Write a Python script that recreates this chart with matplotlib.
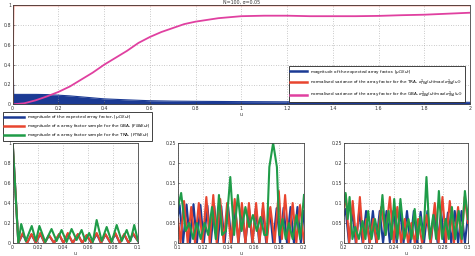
import numpy as np
import matplotlib
matplotlib.use("Agg")
import matplotlib.pyplot as plt

# ---------------- data ----------------
# top panel
top_env_u = [0, 0.004, 0.05, 0.1, 0.15, 0.2, 0.25, 0.3, 0.35, 0.4, 0.5, 0.6, 0.7, 0.8, 1.0, 1.2, 1.4, 1.6, 1.8, 2.0]
top_env_v = [1.0, 0.10, 0.10, 0.10, 0.098, 0.092, 0.085, 0.075, 0.065, 0.055, 0.045, 0.036, 0.032, 0.030, 0.027, 0.025, 0.024, 0.022, 0.021, 0.020]
tra_var_u = [0, 0.003, 2.0]
tra_var_v = [0, 1.0, 1.0]
gba_var_u = [0, 0.05, 0.1, 0.15, 0.2, 0.25, 0.3, 0.35, 0.4, 0.45, 0.5, 0.55, 0.6, 0.65, 0.7, 0.75, 0.8, 0.9,
             1.0, 1.1, 1.2, 1.3, 1.4, 1.5, 1.6, 1.7, 1.8, 1.9, 2.0]
gba_var_v = [0, 0.01, 0.04, 0.08, 0.125, 0.18, 0.25, 0.32, 0.40, 0.47, 0.54, 0.62, 0.68, 0.73, 0.77, 0.81, 0.835, 0.87,
             0.89, 0.895, 0.895, 0.89, 0.89, 0.89, 0.893, 0.90, 0.905, 0.915, 0.925]

# bottom-left panel (0 - 0.1)
bl_blue_u = [0.0, 0.0045, 0.0080, 0.0115, 0.0150, 0.0185, 0.0220, 0.0255, 0.0290, 0.0330, 0.0370, 0.0405, 0.0440, 0.0480,
             0.0520, 0.0555, 0.0590, 0.0630, 0.0670, 0.0705, 0.0740, 0.0780, 0.0820, 0.0855, 0.0890, 0.0925, 0.0960, 0.1000]
bl_blue_v = [1.0, 0.0, 0.09, 0.0, 0.085, 0.0, 0.09, 0.0, 0.075, 0.0, 0.085, 0.0, 0.09, 0.0,
             0.085, 0.0, 0.075, 0.0, 0.09, 0.0, 0.085, 0.0, 0.09, 0.0, 0.085, 0.0, 0.09, 0.02]
bl_red_u = [0.0, 0.0045, 0.0080, 0.0115, 0.0150, 0.0185, 0.0220, 0.0255, 0.0290, 0.0330, 0.0370, 0.0405, 0.0440, 0.0480,
            0.0520, 0.0555, 0.0590, 0.0630, 0.0670, 0.0705, 0.0740, 0.0780, 0.0820, 0.0855, 0.0890, 0.0925, 0.0960, 0.1000]
bl_red_v = [1.0, 0.0, 0.10, 0.0, 0.09, 0.0, 0.10, 0.0, 0.08, 0.0, 0.09, 0.0, 0.10, 0.0,
            0.09, 0.0, 0.08, 0.0, 0.10, 0.0, 0.09, 0.0, 0.10, 0.0, 0.09, 0.0, 0.10, 0.02]
bl_green_u = [0, 0.0045, 0.0068, 0.0105, 0.0152, 0.0185, 0.0213, 0.026, 0.031, 0.035, 0.039, 0.043, 0.047, 0.051,
              0.055, 0.058, 0.061, 0.064, 0.067, 0.071, 0.075, 0.079, 0.083, 0.087, 0.091, 0.094, 0.097, 0.100]
bl_green_v = [1.0, 0.0, 0.19, 0.02, 0.17, 0.02, 0.17, 0.01, 0.14, 0.02, 0.13, 0.01, 0.14, 0.03,
              0.13, 0.02, 0.10, 0.01, 0.23, 0.02, 0.16, 0.01, 0.18, 0.02, 0.13, 0.02, 0.18, 0.02]

# bottom-middle panel (0.1 - 0.2)
bm_blue_u = [0.1000, 0.1013, 0.1040, 0.1068, 0.1095, 0.1123, 0.1150, 0.1178, 0.1205, 0.1233, 0.1260, 0.1288, 0.1315,
             0.1343, 0.1370, 0.1398, 0.1425, 0.1453, 0.1480, 0.1508, 0.1535, 0.1563, 0.1590, 0.1618, 0.1645, 0.1673,
             0.1700, 0.1728, 0.1755, 0.1783, 0.1810, 0.1838, 0.1865, 0.1893, 0.1920, 0.1948, 0.1975, 0.2000]
bm_blue_v = [0.07, 0.095, 0.0, 0.096, 0.0, 0.097, 0.0, 0.095, 0.0, 0.094, 0.0, 0.093, 0.0,
             0.092, 0.0, 0.091, 0.0, 0.090, 0.0, 0.089, 0.0, 0.088, 0.0, 0.087, 0.0, 0.086,
             0.0, 0.086, 0.0, 0.087, 0.0, 0.088, 0.0, 0.090, 0.0, 0.090, 0.0, 0.08]
bm_red_u = [0.1000, 0.1020, 0.1048, 0.1077, 0.1105, 0.1135, 0.1165, 0.1195, 0.1225, 0.1252, 0.1280, 0.1307, 0.1335,
            0.1362, 0.1390, 0.1420, 0.1450, 0.1478, 0.1507, 0.1535, 0.1563, 0.1592, 0.1620, 0.1647, 0.1675, 0.1704,
            0.1733, 0.1767, 0.1800, 0.1825, 0.1850, 0.1880, 0.1910, 0.1939, 0.1968, 0.2000]
bm_red_v = [0.06, 0.0, 0.105, 0.0, 0.09, 0.0, 0.10, 0.0, 0.115, 0.0, 0.12, 0.0, 0.11,
            0.0, 0.10, 0.0, 0.11, 0.0, 0.10, 0.0, 0.10, 0.0, 0.10, 0.0, 0.10, 0.0,
            0.09, 0.0, 0.13, 0.01, 0.12, 0.0, 0.10, 0.0, 0.095, 0.0]
bm_green_u = [0.100, 0.1025, 0.1060, 0.1090, 0.1120, 0.1150, 0.1180, 0.1210, 0.1240, 0.1270, 0.1300, 0.1325, 0.1350,
              0.1380, 0.1415, 0.1445, 0.1475, 0.1505, 0.1535, 0.1565, 0.1595, 0.1625, 0.1655, 0.1685, 0.1705,
              0.1725, 0.1755, 0.1785, 0.1805, 0.1830, 0.1855, 0.1880, 0.1910, 0.1940, 0.1970, 0.2000]
bm_green_v = [0.09, 0.125, 0.03, 0.05, 0.01, 0.05, 0.01, 0.05, 0.02, 0.09, 0.01, 0.12, 0.02,
              0.03, 0.165, 0.02, 0.12, 0.03, 0.09, 0.04, 0.07, 0.03, 0.065, 0.02, 0.02,
              0.19, 0.25, 0.19, 0.02, 0.06, 0.01, 0.05, 0.01, 0.07, 0.01, 0.12]

# bottom-right panel (0.2 - 0.3)
br_blue_u = [0.2000, 0.2013, 0.2040, 0.2068, 0.2095, 0.2123, 0.2150, 0.2178, 0.2205, 0.2233, 0.2260, 0.2288, 0.2315,
             0.2343, 0.2370, 0.2398, 0.2425, 0.2453, 0.2480, 0.2508, 0.2535, 0.2563, 0.2590, 0.2618, 0.2645, 0.2673,
             0.2700, 0.2728, 0.2755, 0.2783, 0.2810, 0.2838, 0.2865, 0.2893, 0.2920, 0.2948, 0.2975, 0.3000]
br_blue_v = [0.07, 0.085, 0.0, 0.082, 0.0, 0.080, 0.0, 0.080, 0.0, 0.080, 0.0, 0.080, 0.0,
             0.080, 0.0, 0.080, 0.0, 0.080, 0.0, 0.080, 0.0, 0.080, 0.0, 0.078, 0.0, 0.080,
             0.0, 0.080, 0.0, 0.078, 0.0, 0.076, 0.0, 0.080, 0.0, 0.080, 0.0, 0.07]
br_red_u = [0.2000, 0.2015, 0.2042, 0.2070, 0.2100, 0.2128, 0.2155, 0.2180, 0.2208, 0.2236, 0.2265, 0.2300, 0.2335,
            0.2370, 0.2400, 0.2430, 0.2460, 0.2490, 0.2517, 0.2544, 0.2571, 0.2598, 0.2630, 0.2665, 0.2698,
            0.2732, 0.2763, 0.2794, 0.2823, 0.2853, 0.2887, 0.2920, 0.2947, 0.2973, 0.3000]
br_red_v = [0.09, 0.12, 0.0, 0.105, 0.0, 0.115, 0.0, 0.06, 0.0, 0.06, 0.0, 0.09, 0.02,
            0.115, 0.0, 0.09, 0.0, 0.06, 0.0, 0.05, 0.0, 0.06, 0.0, 0.07, 0.0,
            0.10, 0.0, 0.115, 0.0, 0.105, 0.0, 0.09, 0.0, 0.115, 0.05]
br_green_u = [0.2000, 0.2013, 0.2030, 0.2045, 0.2068, 0.2090, 0.2120, 0.2150, 0.2173, 0.2195, 0.2222, 0.2250, 0.2280,
              0.2310, 0.2335, 0.2360, 0.2383, 0.2405, 0.2430, 0.2455, 0.2487, 0.2520, 0.2545, 0.2570, 0.2593,
              0.2615, 0.2640, 0.2665, 0.2692, 0.2720, 0.2743, 0.2765, 0.2792, 0.2820, 0.2845, 0.2870, 0.2897,
              0.2925, 0.2950, 0.2975, 0.3000]
br_green_v = [0.10, 0.125, 0.06, 0.115, 0.01, 0.04, 0.01, 0.055, 0.01, 0.08, 0.01, 0.06, 0.01,
              0.12, 0.02, 0.08, 0.01, 0.11, 0.01, 0.11, 0.01, 0.06, 0.01, 0.085, 0.01,
              0.065, 0.01, 0.165, 0.01, 0.07, 0.01, 0.13, 0.01, 0.06, 0.01, 0.09, 0.01,
              0.08, 0.01, 0.13, 0.06]

# tick labels
top_xticks = [0, 0.2, 0.4, 0.6, 0.8, 1, 1.2, 1.4, 1.6, 1.8, 2]
top_yticks = [0, 0.2, 0.4, 0.6, 0.8, 1]
bl_xticks = [0, 0.02, 0.04, 0.06, 0.08, 0.1]
bm_xticks = [0.1, 0.12, 0.14, 0.16, 0.18, 0.2]
br_xticks = [0.2, 0.22, 0.24, 0.26, 0.28, 0.3]
small_yticks = [0, 0.05, 0.1, 0.15, 0.2, 0.25]

top_labels = [r'magnitude of the expected array factor, $|\mu_{CG}(u)|$',
              r'normalised variance of the array factor for the TRA, $\sigma^2_{TRA}(u)/\max(\sigma^2_{TRA}(u))$',
              r'normalised variance of the array factor for the GBA, $\sigma^2_{GBA}(u)/\max(\sigma^2_{TRA}(u))$']
bottom_labels = [r'magnitude of the expected array factor, $|\mu_{CG}(u)|$',
                 r'magnitude of a array factor sample for the GBA, $|F_{GBA}(u)|$',
                 r'magnitude of a array factor sample for the TRA, $|F_{TRA}(u)|$']

# ---------------- style ----------------
BLUE = '#1b3a94'
RED = '#e8452f'
GREEN = '#1f9c48'
PINK = '#e040a0'
FS = 3.4
W, H = 475, 256

plt.rcParams['font.family'] = ['DejaVu Sans']
fig = plt.figure(figsize=(W / 100, H / 100), dpi=100)


def style(ax, xt, yt, xlim, ylim):
    ax.set_xlim(*xlim)
    ax.set_ylim(*ylim)
    ax.set_xticks(xt)
    ax.set_yticks(yt)
    ax.set_xticklabels([('%g' % v) for v in xt])
    ax.set_yticklabels([('%g' % v) for v in yt])
    ax.tick_params(direction='in', length=1.5, width=0.4, labelsize=FS, pad=1.2, colors='#333333')
    ax.grid(True, linestyle=(0, (1, 2.5)), linewidth=0.5, color='#9a9a9a')
    for s in ax.spines.values():
        s.set_linewidth(0.6)
        s.set_color('#444444')
    ax.set_xlabel('u', fontsize=FS, labelpad=1.0, color='#333333')


# top panel
ax0 = fig.add_axes([12.7 / W, 1 - 104.3 / H, 457.3 / W, 99 / H])
ax0.fill_between(top_env_u, 0, top_env_v, color=BLUE, linewidth=0)
ax0.plot(top_env_u, top_env_v, color=BLUE, linewidth=0.8)
l_blue, = ax0.plot([], [], color=BLUE, linewidth=1.8)
l_red, = ax0.plot(tra_var_u, tra_var_v, color=RED, linewidth=1.3)
l_pink, = ax0.plot(gba_var_u, gba_var_v, color=PINK, linewidth=1.3)
style(ax0, top_xticks, top_yticks, (0, 2), (0, 1))
ax0.set_title('N=100, \u03c3=0.05', fontsize=FS, pad=0.8, color='#333333')
leg0 = ax0.legend([l_blue, l_red, l_pink], top_labels,
                  loc='upper right', bbox_to_anchor=(465 / W, 1 - 66 / H),
                  bbox_transform=fig.transFigure, borderaxespad=0, fontsize=3.0,
                  fancybox=False, framealpha=1, edgecolor='#222222', handlelength=4.0,
                  labelspacing=0.4, borderpad=0.4, handletextpad=0.8)
leg0.get_frame().set_linewidth(0.6)
for ln in leg0.get_lines():
    ln.set_linewidth(1.8)

# bottom panels
axL = fig.add_axes([12.7 / W, 1 - 243 / H, 125.3 / W, 100 / H])
axM = fig.add_axes([178 / W, 1 - 243 / H, 126 / W, 100 / H])
axR = fig.add_axes([344 / W, 1 - 243 / H, 124 / W, 100 / H])

LW = 1.5
for ax, bu, bv, ru, rv, gu, gv in [
        (axL, bl_blue_u, bl_blue_v, bl_red_u, bl_red_v, bl_green_u, bl_green_v),
        (axM, bm_blue_u, bm_blue_v, bm_red_u, bm_red_v, bm_green_u, bm_green_v),
        (axR, br_blue_u, br_blue_v, br_red_u, br_red_v, br_green_u, br_green_v)]:
    ax.plot(bu, bv, color=BLUE, linewidth=LW)
    ax.plot(ru, rv, color=RED, linewidth=LW)
    ax.plot(gu, gv, color=GREEN, linewidth=LW)

style(axL, bl_xticks, top_yticks, (0, 0.1), (0, 1))
style(axM, bm_xticks, small_yticks, (0.1, 0.2), (0, 0.25))
style(axR, br_xticks, small_yticks, (0.2, 0.3), (0, 0.25))

leg1 = axL.legend(axL.get_lines(), bottom_labels,
                  loc='upper left', bbox_to_anchor=(3 / W, 1 - 112 / H),
                  bbox_transform=fig.transFigure, borderaxespad=0, fontsize=3.05,
                  fancybox=False, framealpha=1, edgecolor='#222222', handlelength=4.5,
                  labelspacing=0.2, borderpad=0.35, handletextpad=0.8)
leg1.get_frame().set_linewidth(0.6)
for ln in leg1.get_lines():
    ln.set_linewidth(1.8)

fig.savefig('out.png', dpi=100)
